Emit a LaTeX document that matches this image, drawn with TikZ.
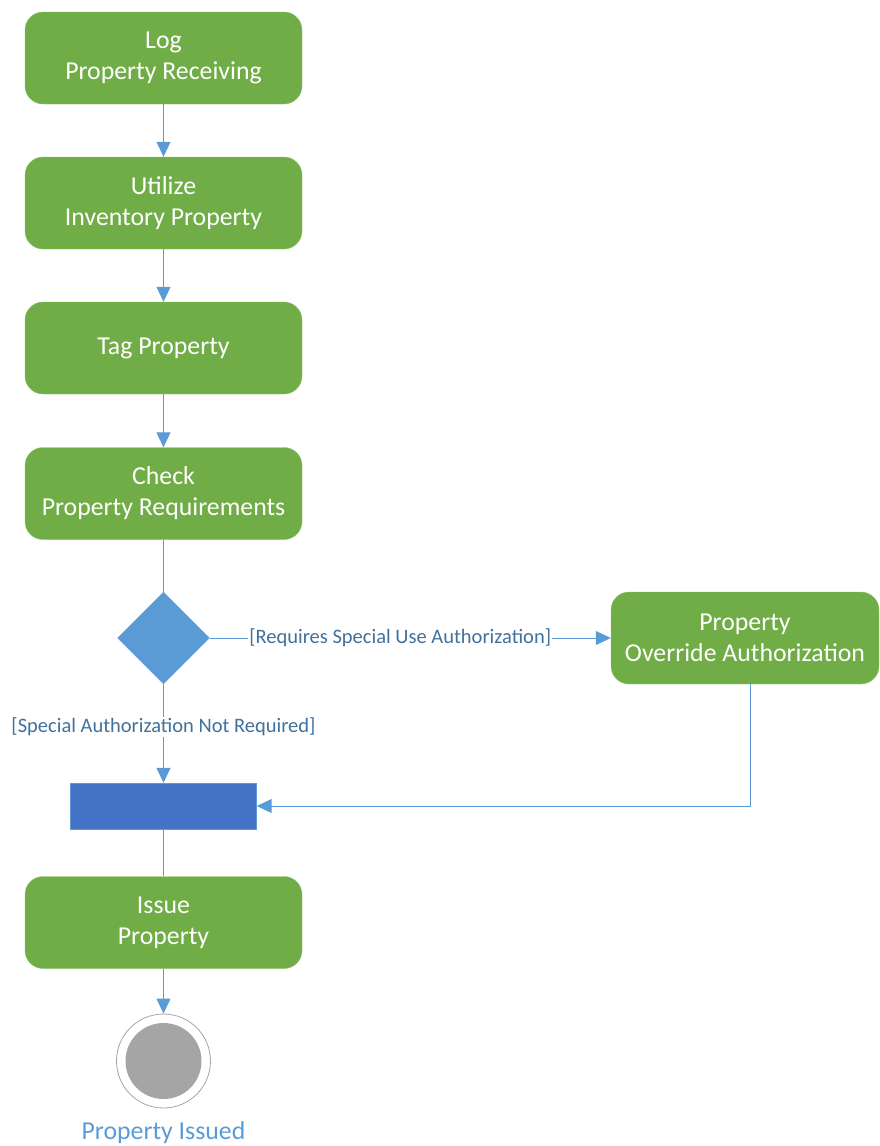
\documentclass[tikz,border=0pt]{standalone}
\usepackage{fontspec}
\setmainfont{Carlito}
\usepackage{tikz}
\usetikzlibrary{shapes,arrows.meta,positioning,calc}
\definecolor{actgreen}{HTML}{70AD47}
\definecolor{actedge}{HTML}{8CC168}
\definecolor{flowblue}{HTML}{5B9BD5}
\definecolor{barblue}{HTML}{4472C4}
\definecolor{guardblue}{HTML}{41719C}
\definecolor{endgray}{HTML}{A5A5A5}
\tikzstyle{act} = [rectangle, rounded corners=18pt, draw=actedge, fill=actgreen, text=white, minimum width=277pt, minimum height=92pt, align=center, font=\fontsize{25.8}{31}\selectfont, inner sep=0pt]
\tikzstyle{decision} = [diamond, draw=flowblue, fill=flowblue, minimum width=92pt, minimum height=92pt, inner sep=0pt]
\tikzstyle{syncbar} = [rectangle, draw=flowblue, fill=barblue, minimum width=186pt, minimum height=46pt, inner sep=0pt]
\tikzstyle{flow} = [draw=flowblue, line width=1pt, -{Triangle[length=15pt,width=14pt]}]
\tikzstyle{plain} = [draw=flowblue, line width=1pt]
\tikzstyle{guard} = [fill=white, text=guardblue, font=\fontsize{20.5}{24}\selectfont, inner sep=1pt]

\begin{document}
\begin{tikzpicture}[x=1pt, y=-1pt]
    \useasboundingbox (0,0) rectangle (879,1146);
    \node[act] (log) at (163.5,58) {Log\\Property Receiving};
    \node[act] (util) at (163.5,203) {Utilize\\Inventory Property};
    \node[act] (tag) at (163.5,348) {Tag Property};
    \node[act] (check) at (163.5,493.5) {Check\\Property Requirements};
    \node[decision] (dec) at (163.5,638) {};
    \node[act, minimum width=268pt] (override) at (745,638) {Property\\Override Authorization};
    \node[syncbar] (join) at (163.5,806) {};
    \node[act] (issue) at (163.5,922.5) {Issue\\Property};
    \node[circle, draw=endgray, line width=0.8pt, fill=white, minimum size=94pt, inner sep=0pt] (final) at (163.5,1061) {};
    \node[circle, fill=endgray, minimum size=76pt, inner sep=0pt] (finaldot) at (final) {};
    \node[text=flowblue, font=\fontsize{25.8}{30}\selectfont] (finallbl) at (163.5,1133) {Property Issued};

    \foreach \a/\b in {log/util, util/tag, tag/check} {
        \draw[flow] (\a.south) -- (\b.north);
    }
    \draw[plain] (check.south) -- (dec.north);
    \draw[flow] (dec.east) -- node[guard, pos=0.475] {[Requires Special Use Authorization]} (override.west);
    \draw[flow] (dec.south) -- node[guard, pos=0.43] {[Special Authorization Not Required]} (join.north);
    \draw[flow] (override.south -| 750,0) |- (join.east);
    \draw[plain] (join.south) -- (issue.north);
    \draw[flow] (issue.south) -- (final.north);
\end{tikzpicture}
\end{document}
